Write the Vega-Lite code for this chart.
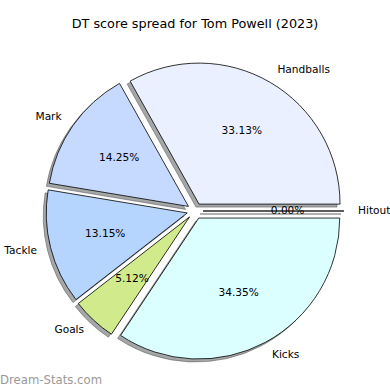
{
  "$schema": "https://vega.github.io/schema/vega-lite/v6.json",
  "width": 390,
  "height": 390,
  "padding": 0,
  "autosize": {"type": "none"},
  "background": "white",
  "config": {"view": {"stroke": null}},
  "title": {"text": "DT score spread for Tom Powell (2023)", "font": "DejaVu Sans", "fontSize": 12.8, "fontWeight": "normal", "color": "black", "anchor": "middle", "offset": -44, "baseline": "bottom"},
  "layer": [
    {
      "data": {"values": [
        {"idx": 1, "cat": "Handballs", "share": 0.3313},
        {"idx": 2, "cat": "Mark", "share": 0.1425},
        {"idx": 3, "cat": "Tackle", "share": 0.1315},
        {"idx": 4, "cat": "Goals", "share": 0.0512},
        {"idx": 5, "cat": "Kicks", "share": 0.3435},
        {"idx": 6, "cat": "Hitout", "share": 0}
      ]},
      "transform": [
        {"joinaggregate": [{"op": "sum", "field": "share", "as": "total"}]},
        {"window": [{"op": "sum", "field": "share", "as": "cum"}], "sort": [{"field": "idx"}], "frame": [null, 0]},
        {"calculate": "2*PI*(datum.cum - datum.share/2)/datum.total", "as": "mid"},
        {"calculate": "cos(datum.mid)", "as": "dx"},
        {"calculate": "sin(datum.mid)", "as": "dy"}
      ],
      "encoding": {
        "theta": {"field": "share", "type": "quantitative", "stack": true, "scale": {"domain": [0, 1], "range": [1.5707963, -4.712389]}},
        "order": {"field": "idx", "type": "quantitative"},
        "x": {"field": "dx", "type": "quantitative", "scale": {"domain": [-1, 1], "range": [187, 203]}, "axis": null},
        "y": {"field": "dy", "type": "quantitative", "scale": {"domain": [-1, 1], "range": [219, 203]}, "axis": null}
      },
      "layer": [
        {"mark": {"type": "arc", "outerRadius": 141, "fill": "#4b4d50", "fillOpacity": 0.5, "stroke": "#4b4d50", "strokeOpacity": 0.5, "strokeWidth": 1, "xOffset": -3, "yOffset": 3}},
        {"mark": {"type": "arc", "outerRadius": 141, "stroke": "black", "strokeWidth": 0.8},
         "encoding": {"fill": {"field": "cat", "type": "nominal", "legend": null,
           "scale": {"domain": ["Handballs", "Mark", "Tackle", "Goals", "Kicks", "Hitout"], "range": ["#eaf0ff", "#c6d9ff", "#b5d5ff", "#d1eb8c", "#dbffff", "#f0f0f0"]}}}},
        {"mark": {"type": "text", "radius": 84.6, "font": "DejaVu Sans", "fontSize": 10.6, "color": "black", "align": "center", "baseline": "middle"},
         "encoding": {"text": {"field": "share", "type": "quantitative", "format": ".2%"}}},
        {"mark": {"type": "text", "radius": 155, "font": "DejaVu Sans", "fontSize": 10.6, "color": "black", "align": "left", "baseline": "middle"},
         "encoding": {"text": {"condition": {"test": "datum.dx > 0.001", "field": "cat"}, "value": ""}}},
        {"mark": {"type": "text", "radius": 155, "font": "DejaVu Sans", "fontSize": 10.6, "color": "black", "align": "right", "baseline": "middle"},
         "encoding": {"text": {"condition": {"test": "datum.dx <= 0.001", "field": "cat"}, "value": ""}}}
      ]
    },
    {
      "data": {"values": [{"t": "Dream-Stats.com"}]},
      "mark": {"type": "text", "align": "left", "baseline": "middle", "font": "DejaVu Sans", "fontSize": 11.7, "color": "#999999"},
      "encoding": {"text": {"field": "t"}, "x": {"value": 0}, "y": {"value": 380}}
    }
  ]
}
